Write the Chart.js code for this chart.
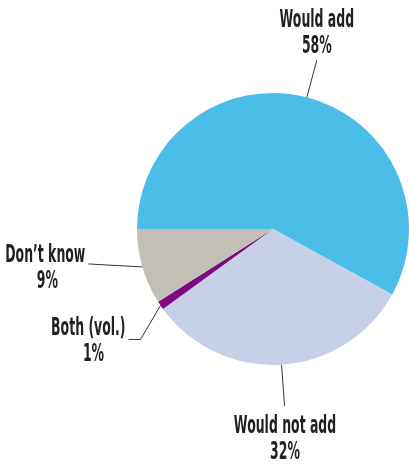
<!DOCTYPE html>
<html>
<head>
<meta charset="utf-8">
<script src="https://cdn.jsdelivr.net/npm/chart.js@4/dist/chart.umd.min.js"></script>
<style>
  html, body { margin: 0; padding: 0; background: #fff; }
  #wrap { width: 409px; height: 466px; }
</style>
</head>
<body>
<div id="wrap"><canvas id="pie"></canvas></div>
<script>
// survey answers, in drawing order (clockwise from 9 o'clock)
const answers = ['Would add', 'Would not add', 'Both (vol.)', 'Don\u2019t know']
const shares = [58, 32, 1, 9]
const sliceColors = ['#4abde8', '#c6d0e6', '#7d0a80', '#c3bfb7']

// callout layout, relative to the point on the rim at the slice middle
// line: leader path, text: anchor of the name line, pct: x of the % line from that anchor
const callouts = [
  { line: [[10, -37]], text: [10, -70], align: 'center', pct: 0 },
  { line: [[3, 41]], text: [3.5, 68], align: 'center', pct: 0 },
  { line: [[-20, 34], [-32, 34]], text: [-35, 30], align: 'right', pct: -32 },
  { line: [[-54, -3]], text: [-57, -5], align: 'right', pct: -38 }
]

const FONT = 'bold 24px "DejaVu Sans", sans-serif'
const SQUEEZE = 0.52   // narrow the type to a condensed look
const LINE_GAP = 26

function squeezedText(ctx, text, x, y, align) {
  ctx.save()
  ctx.translate(x, y)
  ctx.scale(SQUEEZE, 1)
  ctx.textAlign = align
  ctx.fillText(text, 0, 0)
  ctx.restore()
}

const calloutPlugin = {
  id: 'callouts',
  afterDatasetsDraw(chart) {
    const ctx = chart.ctx
    const arcs = chart.getDatasetMeta(0).data
    ctx.save()
    ctx.strokeStyle = '#333'
    ctx.lineWidth = 1
    ctx.fillStyle = '#231f20'
    ctx.font = FONT
    ctx.textBaseline = 'alphabetic'
    arcs.forEach(function (arc, i) {
      const c = callouts[i]
      const mid = (arc.startAngle + arc.endAngle) / 2
      const x0 = arc.x + Math.cos(mid) * arc.outerRadius
      const y0 = arc.y + Math.sin(mid) * arc.outerRadius
      ctx.beginPath()
      ctx.moveTo(x0, y0)
      c.line.forEach(function (p) { ctx.lineTo(x0 + p[0], y0 + p[1]) })
      ctx.stroke()

      const tx = x0 + c.text[0]
      const ty = y0 + c.text[1]
      squeezedText(ctx, answers[i], tx, ty, c.align)
      squeezedText(ctx, shares[i] + '%', tx + c.pct, ty + LINE_GAP, 'center')
    })
    ctx.restore()
  }
}

new Chart(document.getElementById('pie'), {
  type: 'pie',
  data: {
    labels: answers,
    datasets: [{
      data: shares,
      backgroundColor: sliceColors,
      borderWidth: 0
    }]
  },
  options: {
    responsive: true,
    maintainAspectRatio: false,
    animation: false,
    rotation: -90,
    layout: { padding: { left: 137, right: 0, top: 93, bottom: 101 } },
    plugins: {
      legend: { display: false },
      tooltip: { enabled: false }
    }
  },
  plugins: [calloutPlugin]
})
</script>
</body>
</html>
